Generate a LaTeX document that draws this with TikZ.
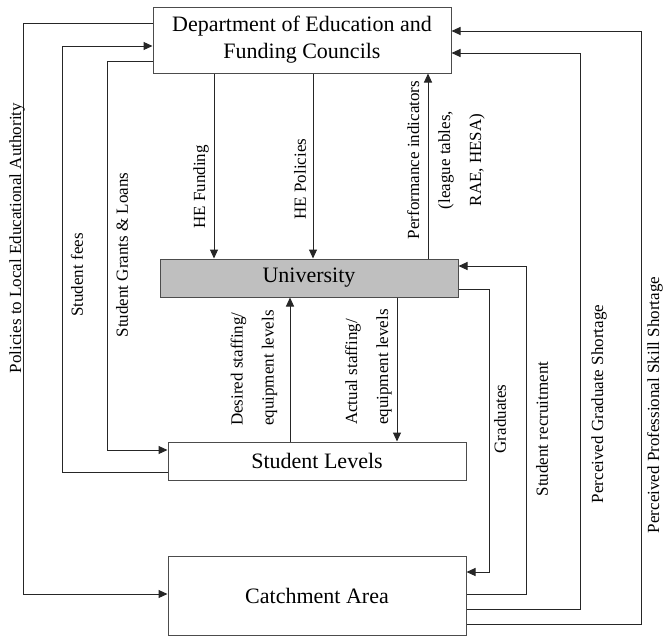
\documentclass[tikz,border=0pt]{standalone}
\usepackage{fontspec}
\setmainfont{Liberation Serif}
\usetikzlibrary{arrows.meta}
\begin{document}
\begin{tikzpicture}[x=1pt,y=-1pt,
  box/.style={draw=black!70, line width=1pt, inner sep=0pt, font=\fontsize{22}{27}\selectfont, align=center},
  lab/.style={rotate=90, font=\fontsize{17}{31}\selectfont, inner sep=0pt},
  conn/.style={line width=1pt, draw=black!85},
  arr/.style={conn, -{Triangle[length=9pt,width=8pt]}}]
\useasboundingbox (0,0) rectangle (664,637);

% boxes
\node[box, minimum width=298pt, minimum height=66pt] (dept) at (302,40) {Department of Education and\\Funding Councils};
\node[box, fill=black!25, minimum width=298pt, minimum height=38pt] (uni) at (309,278) {University};
\node[box, minimum width=298pt, minimum height=38pt] (sl) at (317,461) {Student Levels};
\node[box, minimum width=298pt, minimum height=79pt] (cat) at (317,595.5) {Catchment Area};

% rails
\coordinate (xPol) at (23,0);
\coordinate (xFee) at (62,0);
\coordinate (xGr) at (107,0);
\coordinate (xHF) at (214,0);
\coordinate (xHP) at (313,0);
\coordinate (xPI) at (428,0);
\coordinate (xDes) at (290,0);
\coordinate (xAct) at (397,0);
\coordinate (xGrad) at (489,0);
\coordinate (xRec) at (526,0);
\coordinate (xPG) at (580,0);
\coordinate (xPP) at (641,0);

% anchor points
\coordinate (dPol) at ([yshift=17pt]dept.west);
\coordinate (dFee) at ([yshift=-6pt]dept.west);
\coordinate (dGr) at ([yshift=-21pt]dept.west);
\coordinate (sFee) at ([yshift=-11pt]sl.west);
\coordinate (sGr) at ([yshift=11pt]sl.west);
\coordinate (cPol) at ([yshift=1.5pt]cat.west);
\coordinate (uG) at ([yshift=-11pt]uni.east);
\coordinate (uR) at ([yshift=12pt]uni.east);
\coordinate (cG) at ([yshift=23.5pt]cat.east);
\coordinate (cR) at ([yshift=1.5pt]cat.east);
\coordinate (cPG) at ([yshift=-13.5pt]cat.east);
\coordinate (cPP) at ([yshift=-28.5pt]cat.east);
\coordinate (dPG) at ([yshift=-13pt]dept.east);
\coordinate (dPP) at ([yshift=9pt]dept.east);

% left connectors
\draw[arr] (dPol) -| (xPol |- cPol) -- (cPol);
\draw[arr] (sFee) -| (xFee |- dFee) -- (dFee);
\draw[arr] (dGr) -| (xGr |- sGr) -- (sGr);

% vertical connectors
\draw[arr] (dept.south -| xHF) -- (uni.north -| xHF);
\draw[arr] (dept.south -| xHP) -- (uni.north -| xHP);
\draw[arr] (uni.north -| xPI) -- (dept.south -| xPI);
\draw[arr] (sl.north -| xDes) -- (uni.south -| xDes);
\draw[arr] (uni.south -| xAct) -- (sl.north -| xAct);

% right connectors
\draw[arr] (uG) -| (xGrad |- cG) -- (cG);
\draw[arr] (cR) -| (xRec |- uR) -- (uR);
\draw[arr] (cPG) -| (xPG |- dPG) -- (dPG);
\draw[arr] (cPP) -| (xPP |- dPP) -- (dPP);

% labels
\node[lab] (lPol) at (17,238) {Policies to Local Educational Authority};
\node[lab] (lFee) at (77,275) {Student fees};
\node[lab] (lGr) at (122,255) {Student Grants \& Loans};
\node[lab] (lHF) at (201,187) {HE Funding};
\node[lab] (lHP) at (300,179) {HE Policies};
\node[lab, align=center] (lPI) at (446,160) {Performance indicators\\(league tables,\\RAE, HESA)};
\node[lab, align=left] (lDes) at (254,368) {Desired staffing/\\equipment levels};
\node[lab, align=left] (lAct) at (368.5,367) {Actual staffing/\\equipment levels};
\node[lab] (lGrad) at (500,419) {Graduates};
\node[lab] (lRec) at (542,429) {Student recruitment};
\node[lab] (lPG) at (599,404) {Perceived Graduate Shortage};
\node[lab] (lPP) at (655,405) {Perceived Professional Skill Shortage};
\end{tikzpicture}
\end{document}
